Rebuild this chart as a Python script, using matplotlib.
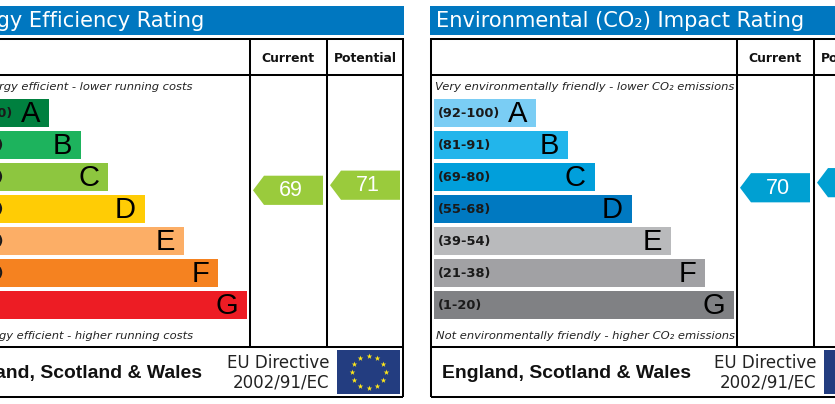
import numpy as np
import matplotlib
matplotlib.use("Agg")
import matplotlib.pyplot as plt
from matplotlib.patches import Polygon, Rectangle

W, H = 835, 404
bands = ["A", "B", "C", "D", "E", "F", "G"]
ranges = ["(92-100)", "(81-91)", "(69-80)", "(55-68)", "(39-54)", "(21-38)", "(1-20)"]
bar_lengths = [102, 134, 161, 198, 237, 271, 300]
energy_colors = ["#00803f", "#1db35d", "#8dc63f", "#ffcc05", "#fcae66", "#f58220", "#ed1c24"]
co2_colors = ["#7acdf4", "#22b5eb", "#019fdb", "#0079c1", "#b9babc", "#a1a1a4", "#808184"]
energy_current, energy_potential = 69, 71
co2_current, co2_potential = 70, 72

fig = plt.figure(figsize=(W / 100, H / 100), dpi=100)
ax = fig.add_axes([0, 0, 1, 1])
ax.set_xlim(0, W)
ax.set_ylim(H, 0)
ax.axis("off")

SANS = "Liberation Sans"
VER = "DejaVu Sans"
BAR_TOPS = [113, 145, 177, 209, 241, 273, 305]


def rating_y(r):
    return 190.3 - 2.55 * (r - 69)


def arrow(tip_x, r, color, off):
    y = rating_y(r)
    pts = [(tip_x, y), (tip_x + 11, y - 14.6), (tip_x + 70, y - 14.6),
           (tip_x + 70, y + 14.6), (tip_x + 11, y + 14.6)]
    ax.add_patch(Polygon(pts, closed=True, fc=color, ec="none", zorder=3))
    ax.text(tip_x + 38, y + 0.6, str(r), family=SANS, fontsize=15.5, color="white",
            ha="center", va="center", zorder=4, clip_on=True)


def panel(off, title, top_txt, bot_txt, colors, cur, pot, arrow_color, nation_right, tx):
    ax.add_patch(Rectangle((off - 57, 6), 461, 29, fc="#0077c0", ec="none"))
    ax.text(off - 51 + tx, 21, title, family=VER, fontsize=15.1, color="white",
            ha="left", va="center")
    for x0, x1, y0, y1 in [(off - 56, off + 403, 39, 39), (off - 56, off + 403, 75, 75),
                           (off - 56, off + 403, 346.5, 346.5), (off - 56, off + 403, 396.5, 396.5)]:
        ax.plot([x0, x1], [y0, y1], color="black", lw=1.45, solid_capstyle="butt", zorder=5)
    for x, y0, y1 in [(off - 56, 38.3, 397.3), (off + 403.3, 38.3, 397.3),
                      (off + 250.3, 38.3, 346), (off + 327, 38.3, 346)]:
        ax.plot([x, x], [y0, y1], color="black", lw=1.45, solid_capstyle="butt", zorder=5)
    ax.text(off + 288, 58.5, "Current", family=VER, weight="bold", fontsize=8.9,
            ha="center", va="center", color="#111111")
    ax.text(off + 365.5, 58.5, "Potential", family=VER, weight="bold", fontsize=8.9,
            ha="center", va="center", color="#111111")
    ax.text(off - 52, 87, top_txt, family=VER, style="italic", fontsize=8.25,
            ha="left", va="center", color="#222222")
    ax.text(off - 51, 336, bot_txt, family=VER, style="italic", fontsize=8.25,
            ha="left", va="center", color="#222222")
    left = off - 53
    ax.barh(BAR_TOPS, bar_lengths, left=left, height=28.3, color=colors, zorder=2)
    for y, ln, rng, b in zip(BAR_TOPS, bar_lengths, ranges, bands):
        ax.text(left + 4, y, rng, family=VER, weight="bold", fontsize=9.4,
                ha="left", va="center", color="#1a1a1a", zorder=3, clip_on=True)
        ax.text(left + ln - 9, y + 1, b, family=SANS, fontsize=21, ha="right",
                va="center", color="black", zorder=3)
    arrow(off + 253, cur, arrow_color, off)
    arrow(off + 330, pot, arrow_color, off)
    ax.text(nation_right, 373.5, "England, Scotland & Wales", family=SANS, weight="bold",
            fontsize=13.95, ha="right", va="center", color="#111111")
    ax.text(off + 329.5, 362.5, "EU Directive", family=VER, fontsize=12, ha="right",
            va="center", color="#222222")
    ax.text(off + 329.5, 382.5, "2002/91/EC", family=VER, fontsize=12, ha="right",
            va="center", color="#222222")
    ax.add_patch(Rectangle((off + 337, 350), 63, 44, fc="#233d80", ec="none", zorder=3))
    a = np.deg2rad(np.arange(12) * 30)
    ax.scatter(off + 368.5 + 17 * np.sin(a), 372 - 16 * np.cos(a), marker="*", s=18,
               color="#ffe81a", linewidths=0, zorder=4)


panel(0, "Energy Efficiency Rating", "Very energy efficient - lower running costs",
      "Not energy efficient - higher running costs", energy_colors,
      energy_current, energy_potential, "#9acb3c", 202, 0)
panel(487, "Environmental (CO\u2082) Impact Rating",
      "Very environmentally friendly - lower CO\u2082 emissions",
      "Not environmentally friendly - higher CO\u2082 emissions", co2_colors,
      co2_current, co2_potential, "#00a0d2", 691, 0)

fig.savefig("out.png", dpi=100)
